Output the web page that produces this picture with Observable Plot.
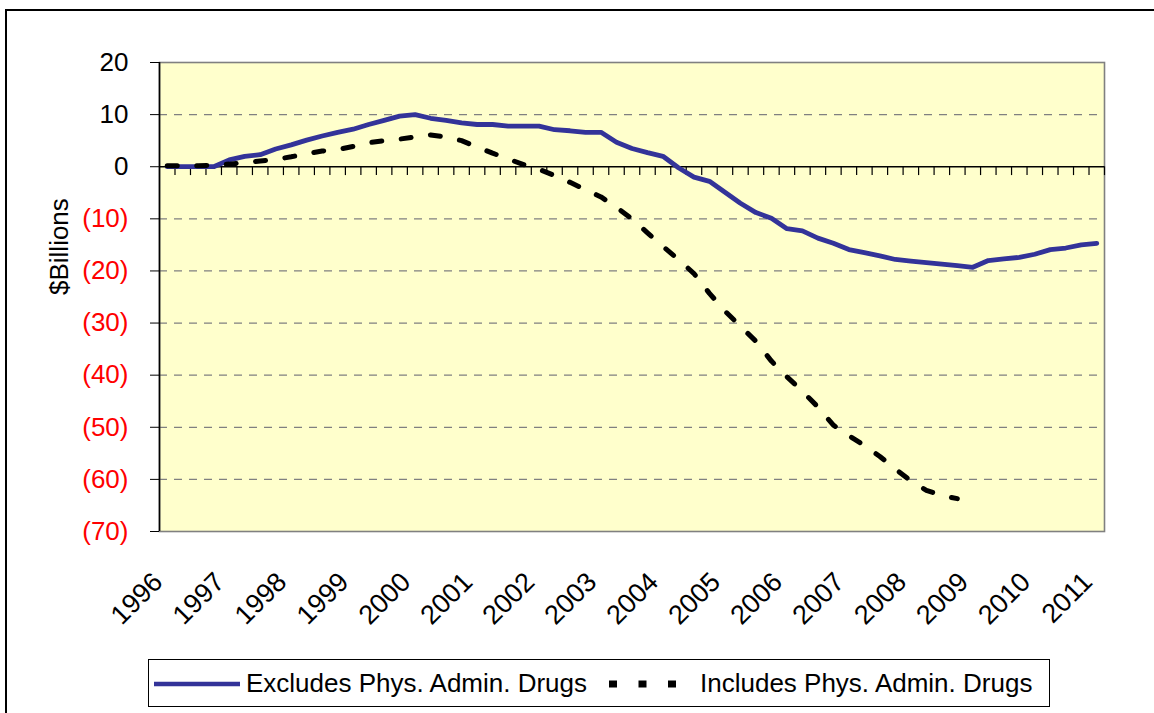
<!DOCTYPE html>
<html>
<head>
<meta charset="utf-8">
<script src="https://cdn.jsdelivr.net/npm/d3@7"></script>
<script src="https://cdn.jsdelivr.net/npm/@observablehq/plot@0.6"></script>
<style>
  html, body { margin: 0; padding: 0; background: white; overflow: hidden; }
  #wrap { position: relative; width: 1154px; height: 713px; font-family: "Liberation Sans", Arial, sans-serif; }
  #chart { position: absolute; left: 0; top: 0; }
  #border { position: absolute; left: 5px; top: 9px; width: 1400px; height: 900px; border: 2px solid black; pointer-events: none; }
  #legend { position: absolute; left: 148px; top: 659px; width: 902px; height: 48px; border: 1px solid black; box-sizing: border-box; background: white; }
  #legend .item { position: absolute; top: 0; height: 46px; line-height: 46px; font-size: 26px; white-space: nowrap; color: black; }
  #legend svg { position: absolute; top: 0; }
</style>
</head>
<body>
<div id="wrap">
  <div id="chart"></div>
  <div id="legend"></div>
  <div id="border"></div>
</div>
<script>
// ---- Data (quarterly, 1996 Q1 .. 2011 Q1) ----
const years = ["1996","1997","1998","1999","2000","2001","2002","2003","2004","2005","2006","2007","2008","2009","2010","2011"];
const seriesNames = ["Excludes Phys. Admin. Drugs", "Includes Phys. Admin. Drugs"];
const excludes = [
  0, 0, 0, 0,
  1.3, 2.0, 2.3, 3.4,
  4.2, 5.1, 5.9, 6.6,
  7.2, 8.1, 8.9, 9.7,
  10.0, 9.3, 8.9, 8.4,
  8.1, 8.1, 7.8, 7.8,
  7.8, 7.1, 6.9, 6.6,
  6.6, 4.7, 3.5, 2.7,
  2.0, -0.2, -2.0, -2.8,
  -4.9, -7.0, -8.8, -9.9,
  -11.9, -12.3, -13.7, -14.7,
  -15.9, -16.5, -17.1, -17.8,
  -18.1, -18.4, -18.7, -19.0,
  -19.3, -18.0, -17.7, -17.4,
  -16.8, -15.9, -15.6, -15.0,
  -14.7
];
const includes = [
  0.2, 0.2, 0.2, 0.3,
  0.5, 0.8, 1.1, 1.4,
  1.9, 2.5, 3.0, 3.3,
  3.9, 4.6, 5.0, 5.3,
  5.7, 6.1, 5.7, 5.0,
  3.8, 2.6, 1.5, 0.4,
  -0.5, -1.7, -3.0, -4.4,
  -5.8, -7.8, -10.0, -12.7,
  -15.3, -17.8, -20.5, -24.3,
  -27.7, -30.6, -33.5, -37.3,
  -40.3, -43.1, -46.1, -49.6,
  -51.6, -53.5, -55.6, -58.0,
  -60.3, -62.1, -63.1, -63.7
];
const yTicks = [20, 10, 0, -10, -20, -30, -40, -50, -60, -70];
const gridVals = [10, -10, -20, -30, -40, -50, -60];

// ---- Styles ----
const BLUE = "#333399";
const BG = "#FFFFCC";
const GRID = "#808080";
const nQ = excludes.length;                    // number of quarterly categories
const boundaries = d3.range(1, nQ + 1);        // category boundaries (tick marks)
const tickLen = 1.7;                           // tick length in value units
const fmt = d => d < 0 ? `(${-d})` : `${d}`;
const FONT = "'Liberation Sans', Arial, sans-serif";

const chart = Plot.plot({
  width: 1154,
  height: 640,
  marginLeft: 159,
  marginRight: 50,
  marginTop: 62,
  marginBottom: 109,
  style: { background: "transparent", fontFamily: FONT, fontSize: "26px", color: "black", overflow: "visible" },
  x: { domain: [0, nQ], axis: null },
  y: { domain: [-70, 20] },
  color: { type: "identity" },
  marks: [
    Plot.frame({ fill: BG }),
    Plot.ruleY(gridVals, { y: d => d, stroke: GRID, strokeWidth: 1.3, strokeDasharray: "8,7" }),
    Plot.frame({ stroke: GRID, strokeWidth: 1.6 }),
    Plot.ruleY([0], { y: d => d, stroke: "black", strokeWidth: 1.6 }),
    Plot.ruleX(boundaries, { x: d => d, y1: 0, y2: -tickLen, stroke: "black", strokeWidth: 1.2 }),
    Plot.ruleX([0], { x: d => d, stroke: "black", strokeWidth: 1.6 }),
    Plot.axisY(yTicks, { tickSize: 9, tickFormat: () => "", label: null, stroke: "black" }),
    Plot.text(yTicks, { y: d => d, text: fmt, frameAnchor: "left", textAnchor: "end", dx: -31, fill: d => d < 0 ? "red" : "black", fontSize: 26 }),
    Plot.text(["$Billions"], { text: d => d, frameAnchor: "left", dx: -100, dy: -2, rotate: -90, fontSize: 26, fill: "black" }),
    Plot.text(years, { x: (d, i) => i * 4 + 0.5, text: d => d, frameAnchor: "bottom", rotate: -45, textAnchor: "end", lineAnchor: "bottom", dx: -3, dy: 52, fontSize: 27, fill: "black" }),
    Plot.line(excludes, { x: (d, i) => i + 0.5, y: d => d, stroke: BLUE, strokeWidth: 4.8 }),
    Plot.line(includes, { x: (d, i) => i + 0.5, y: d => d, stroke: "black", strokeWidth: 5, strokeDasharray: "10,19.5" })
  ]
});
document.getElementById("chart").appendChild(chart);

// ---- Legend (HTML below the SVG) ----
const legend = document.getElementById("legend");
legend.innerHTML = `
  <svg width="90" height="46" style="left:4px">
    <line x1="1" x2="87" y1="24" y2="24" stroke="${BLUE}" stroke-width="4.5"/>
  </svg>
  <div class="item" style="left:97px">${seriesNames[0]}</div>
  <svg width="80" height="46" style="left:458px">
    <line x1="2" x2="70" y1="24" y2="24" stroke="black" stroke-width="7" stroke-dasharray="8,21.5"/>
  </svg>
  <div class="item" style="left:551px">${seriesNames[1]}</div>
`;
</script>
</body>
</html>
